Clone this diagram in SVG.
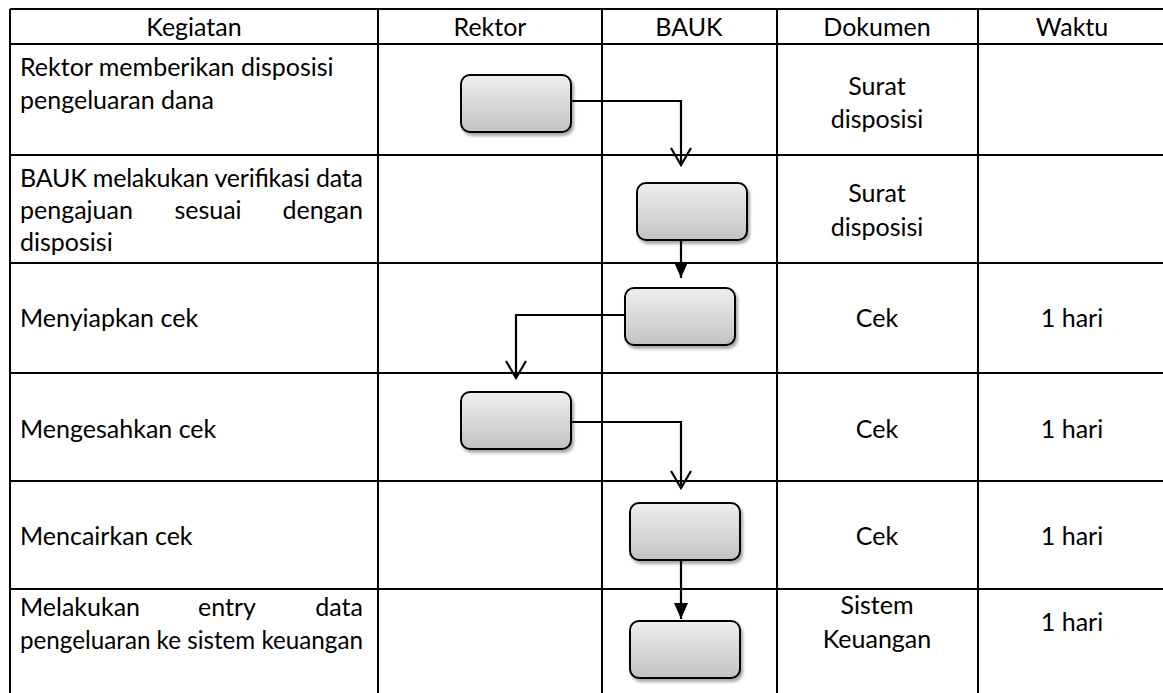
<svg xmlns="http://www.w3.org/2000/svg" width="1163" height="693" viewBox="0 0 1163 693">
  <defs>
    <linearGradient id="boxFill" x1="0" y1="0" x2="0" y2="1">
      <stop offset="0" stop-color="#efefef"/>
      <stop offset="1" stop-color="#c2c2c2"/>
    </linearGradient>
    <filter id="shadow" x="-10%" y="-10%" width="130%" height="140%">
      <feGaussianBlur in="SourceAlpha" stdDeviation="1.5"/>
      <feOffset dx="2" dy="3" result="off"/>
      <feComponentTransfer><feFuncA type="linear" slope="0.35"/></feComponentTransfer>
      <feMerge><feMergeNode/><feMergeNode in="SourceGraphic"/></feMerge>
    </filter>
    <!-- open "V" head, drawn along +x -->
    <marker id="openArrow" viewBox="0 0 20 22" refX="18" refY="11" markerWidth="20" markerHeight="22" markerUnits="userSpaceOnUse" orient="auto">
      <path d="M1 1 L18 11 L1 21" fill="none" stroke="#000" stroke-width="2.2"/>
    </marker>
    <!-- filled triangle head, drawn along +x -->
    <marker id="solidArrow" viewBox="0 0 16 16" refX="16" refY="8" markerWidth="16" markerHeight="16" markerUnits="userSpaceOnUse" orient="auto">
      <path d="M0 1 L16 8 L0 15 Z" fill="#000"/>
    </marker>
  </defs>
  <style>
    .grid { stroke: #000; stroke-width: 2; fill: none; }
    .t { font-family: Lato, "Liberation Sans", sans-serif; font-size: 25px; fill: #000; }
    .c { text-anchor: middle; }
    .e { text-anchor: end; }
    .box { fill: url(#boxFill); stroke: #000; stroke-width: 2; filter: url(#shadow); }
    .link { fill: none; stroke: #000; stroke-width: 2.2; }
  </style>
  <rect width="1163" height="693" fill="#fff"/>

  <!-- table grid -->
  <g id="table" class="grid">
    <line x1="10" y1="9" x2="1163" y2="9"/>
    <line x1="10" y1="44" x2="1163" y2="44"/>
    <line x1="10" y1="155" x2="1163" y2="155"/>
    <line x1="10" y1="263" x2="1163" y2="263"/>
    <line x1="10" y1="373" x2="1163" y2="373"/>
    <line x1="10" y1="481" x2="1163" y2="481"/>
    <line x1="10" y1="589" x2="1163" y2="589"/>
    <line x1="10" y1="9" x2="10" y2="693"/>
    <line x1="378" y1="9" x2="378" y2="693"/>
    <line x1="602" y1="9" x2="602" y2="693"/>
    <line x1="777" y1="9" x2="777" y2="693"/>
    <line x1="978" y1="9" x2="978" y2="693"/>
  </g>

  <!-- column headings -->
  <g id="header" class="t c">
    <text x="194" y="36">Kegiatan</text>
    <text x="490" y="36">Rektor</text>
    <text x="689" y="36">BAUK</text>
    <text x="877" y="36">Dokumen</text>
    <text x="1072" y="36">Waktu</text>
  </g>

  <!-- activity descriptions -->
  <g id="activities" class="t">
    <text x="20" y="76">Rektor memberikan disposisi</text>
    <text x="20" y="109">pengeluaran dana</text>
    <text x="20" y="187" textLength="343" lengthAdjust="spacing">BAUK melakukan verifikasi data</text>
    <text y="219"><tspan x="20">pengajuan</tspan><tspan x="208" class="c">sesuai</tspan><tspan x="363" class="e">dengan</tspan></text>
    <text x="20" y="251">disposisi</text>
    <text x="20" y="327">Menyiapkan cek</text>
    <text x="20" y="438">Mengesahkan cek</text>
    <text x="20" y="545">Mencairkan cek</text>
    <text y="616"><tspan x="20">Melakukan</tspan><tspan x="227" class="c">entry</tspan><tspan x="363" class="e">data</tspan></text>
    <text x="20" y="649" textLength="343" lengthAdjust="spacingAndGlyphs">pengeluaran ke sistem keuangan</text>
  </g>

  <!-- documents and durations -->
  <g id="documents" class="t c">
    <text x="877" y="95">Surat</text>
    <text x="877" y="128">disposisi</text>
    <text x="877" y="202">Surat</text>
    <text x="877" y="236">disposisi</text>
    <text x="877" y="327">Cek</text>
    <text x="877" y="438">Cek</text>
    <text x="877" y="545">Cek</text>
    <text x="877" y="614">Sistem</text>
    <text x="877" y="648">Keuangan</text>
  </g>
  <g id="durations" class="t c">
    <text x="1072" y="327">1 hari</text>
    <text x="1072" y="438">1 hari</text>
    <text x="1072" y="545">1 hari</text>
    <text x="1072" y="631">1 hari</text>
  </g>

  <!-- connectors -->
  <g id="connectors" class="link">
    <path d="M571 101 H681 V165" marker-end="url(#openArrow)"/>
    <path d="M681 240 V278" marker-end="url(#solidArrow)"/>
    <path d="M625 315 H516 V378" marker-end="url(#openArrow)"/>
    <path d="M571 422 H681 V488" marker-end="url(#openArrow)"/>
    <path d="M681 560 V619" marker-end="url(#solidArrow)"/>
  </g>

  <!-- process steps -->
  <g id="step1"><rect class="box" x="461" y="75" width="110" height="57" rx="9"/></g>
  <g id="step2"><rect class="box" x="637" y="183" width="110" height="57" rx="9"/></g>
  <g id="step3"><rect class="box" x="625" y="288" width="110" height="57" rx="9"/></g>
  <g id="step4"><rect class="box" x="461" y="392" width="110" height="57" rx="9"/></g>
  <g id="step5"><rect class="box" x="630" y="503" width="110" height="57" rx="9"/></g>
  <g id="step6"><rect class="box" x="630" y="621" width="110" height="57" rx="9"/></g>
</svg>
